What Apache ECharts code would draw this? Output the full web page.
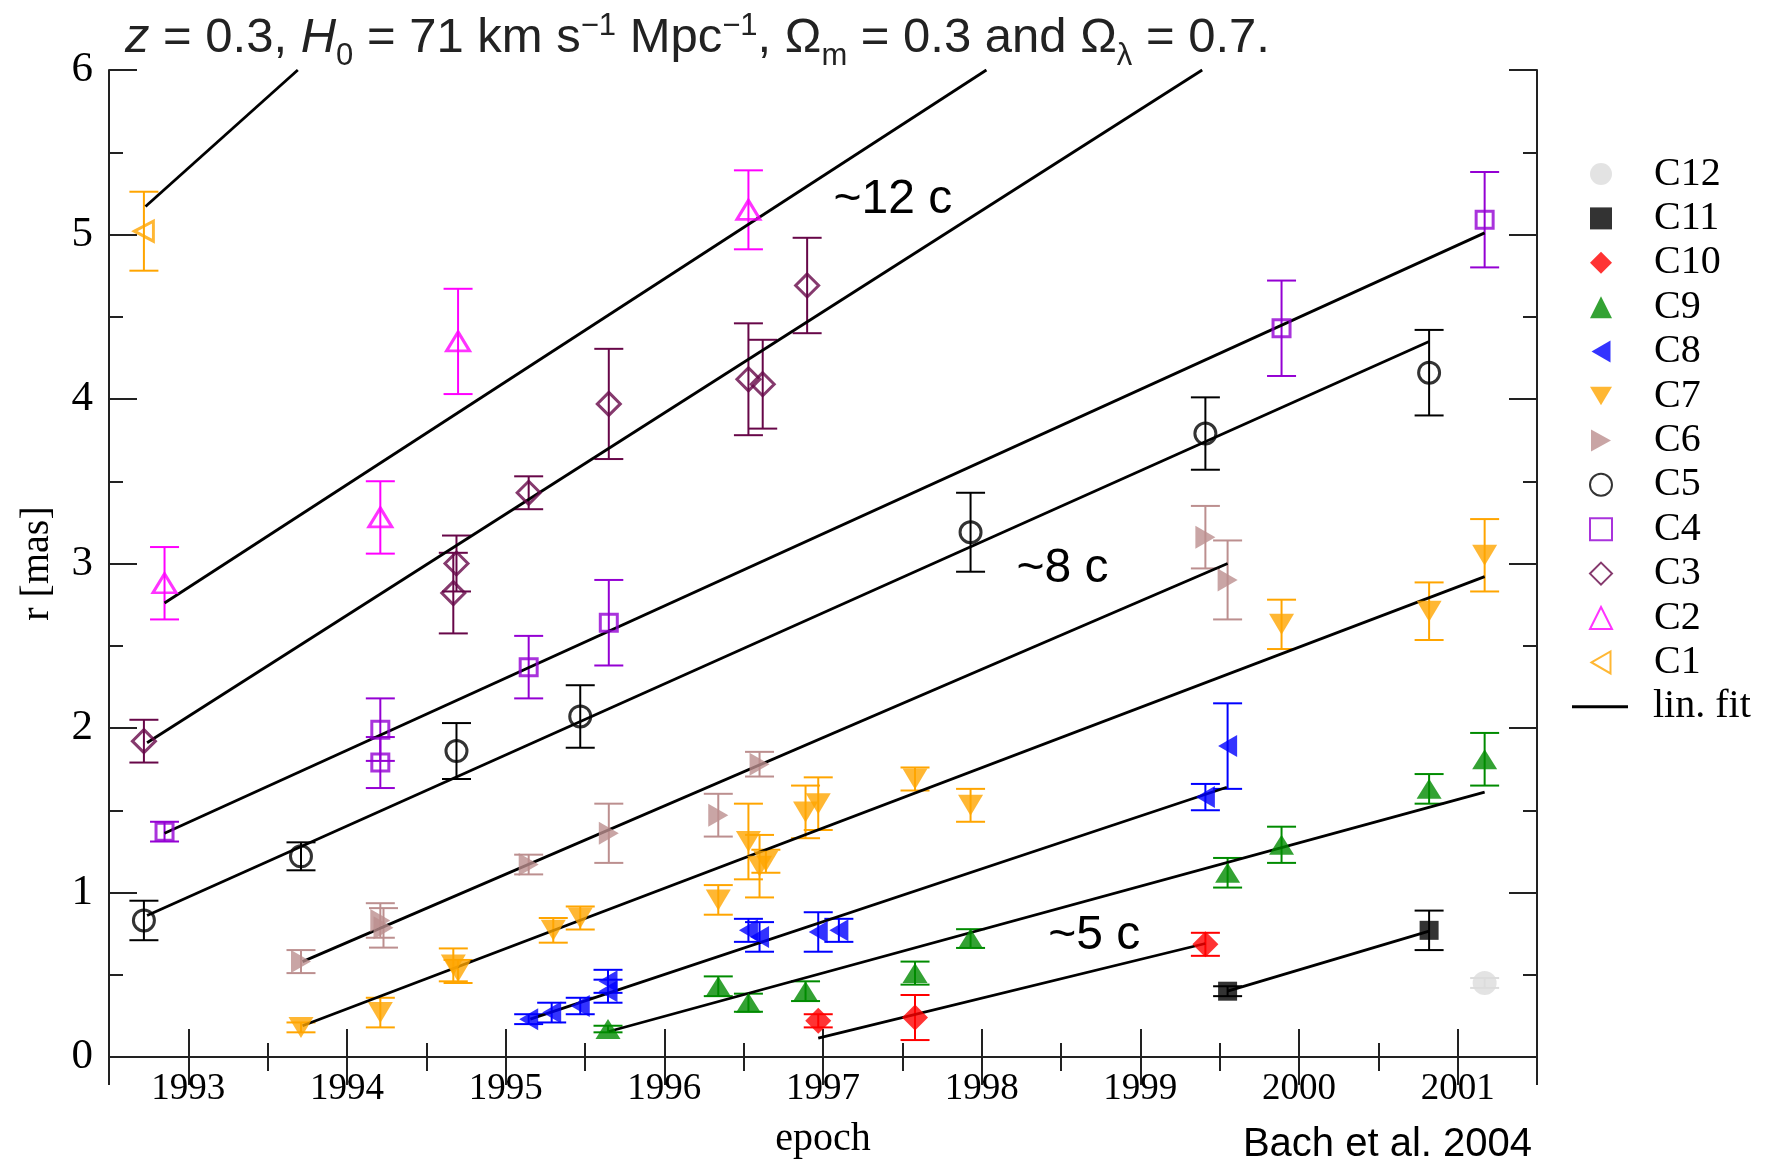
<!DOCTYPE html>
<html>
<head>
<meta charset="utf-8">
<title>r vs epoch</title>
<script src="https://cdn.jsdelivr.net/npm/echarts@6/dist/echarts.min.js"></script>
<style>
  html, body { margin: 0; padding: 0; background: #fff; }
  #chart { width: 1765px; height: 1164px; }
</style>
</head>
<body>
<div id="chart"></div>
<script>
// [epoch, r (mas), error]
var c1 = [[1992.72, 5.02, 0.24]];
var c2 = [[1992.85, 2.88, 0.22], [1994.21, 3.28, 0.22], [1994.70, 4.35, 0.32], [1996.53, 5.15, 0.24]];
var c3 = [[1992.72, 1.92, 0.13], [1994.67, 2.82, 0.245], [1994.69, 3.00, 0.17], [1995.145, 3.43, 0.10],
          [1995.65, 3.97, 0.335], [1996.53, 4.12, 0.34], [1996.62, 4.09, 0.27], [1996.90, 4.69, 0.29]];
var c4 = [[1992.85, 1.37, 0.06], [1994.21, 1.99, 0.19], [1994.21, 1.79, 0.155], [1995.145, 2.37, 0.19],
          [1995.65, 2.64, 0.26], [1999.89, 4.43, 0.29], [2001.17, 5.09, 0.29]];
var c5 = [[1992.72, 0.83, 0.12], [1993.71, 1.22, 0.085], [1994.69, 1.86, 0.17], [1995.47, 2.07, 0.19],
          [1997.93, 3.19, 0.24], [1999.41, 3.79, 0.22], [2000.82, 4.16, 0.26]];
var c6 = [[1993.71, 0.58, 0.07], [1994.21, 0.83, 0.105], [1994.23, 0.785, 0.12], [1995.145, 1.17, 0.06],
          [1995.65, 1.36, 0.18], [1996.34, 1.47, 0.13], [1996.60, 1.78, 0.075], [1999.41, 3.16, 0.19],
          [1999.55, 2.90, 0.24]];
var c7 = [[1993.71, 0.18, 0.03], [1994.21, 0.27, 0.09], [1994.67, 0.56, 0.10], [1994.70, 0.52, 0.07],
          [1995.30, 0.77, 0.075], [1995.47, 0.845, 0.07], [1996.34, 0.955, 0.09], [1996.53, 1.31, 0.23],
          [1996.60, 1.16, 0.19], [1996.64, 1.19, 0.07], [1996.89, 1.49, 0.16], [1996.97, 1.54, 0.16],
          [1997.58, 1.69, 0.07], [1997.93, 1.53, 0.10], [1999.89, 2.63, 0.15], [2000.82, 2.71, 0.175],
          [2001.17, 3.05, 0.22]];
var c8 = [[1995.145, 0.23, 0.03], [1995.29, 0.27, 0.06], [1995.47, 0.31, 0.05], [1995.645, 0.46, 0.07],
          [1995.645, 0.40, 0.07], [1996.53, 0.77, 0.07], [1996.60, 0.73, 0.09], [1996.97, 0.76, 0.12],
          [1997.10, 0.77, 0.07], [1999.41, 1.58, 0.08], [1999.55, 1.89, 0.26]];
var c9 = [[1995.645, 0.17, 0.02], [1996.34, 0.43, 0.06], [1996.53, 0.33, 0.055], [1996.89, 0.40, 0.06],
          [1997.58, 0.51, 0.07], [1997.93, 0.72, 0.057], [1999.55, 1.12, 0.09], [1999.89, 1.29, 0.11],
          [2000.82, 1.63, 0.09], [2001.17, 1.81, 0.16]];
var c10 = [[1996.97, 0.22, 0.04], [1997.58, 0.24, 0.137], [1999.41, 0.685, 0.07]];
var c11 = [[1999.55, 0.40, 0.03], [2000.82, 0.77, 0.12]];
var c12 = [[2001.17, 0.45, 0.03]];

// linear fits: [epoch start, r start, epoch end, r end]
var fits = [
  [1992.73, 5.17, 1993.69, 6.0],
  [1992.85, 2.76, 1998.03, 6.0],
  [1992.74, 1.91, 1999.39, 6.0],
  [1992.85, 1.36, 2001.17, 5.01],
  [1992.74, 0.86, 2000.82, 4.35],
  [1993.72, 0.58, 1999.55, 3.00],
  [1993.72, 0.19, 2001.17, 2.92],
  [1995.155, 0.23, 1999.545, 1.64],
  [1995.65, 0.155, 2001.17, 1.61],
  [1996.97, 0.115, 1999.41, 0.69],
  [1999.55, 0.40, 2000.82, 0.765]
];

// speed labels: [text, epoch, r]
var notes = [['~12 c', 1997.44, 5.21], ['~8 c', 1998.51, 2.97], ['~5 c', 1998.71, 0.74]];

var yTicks = [0, 6];
var xRange = [1992.5, 2001.5];

var triLeft = 'path://M0,11L19,0L19,22Z';
var triRight = 'path://M20,11L0,0L0,22Z';
var triDown = 'path://M0,0L24,0L12,20Z';

var comps = [
  // name, data, colour, symbol, size, rotate, open, legend icon
  ['C12', c12, '#DCDCDC', 'circle', [24, 24], 0, false, 'circle'],
  ['C11', c11, '#000000', 'rect', [19, 19], 0, false, 'rect'],
  ['C10', c10, '#FF0000', 'diamond', [26, 26], 0, false, 'diamond'],
  ['C9', c9, '#008B00', 'triangle', [25, 20], 0, false, 'triangle'],
  ['C8', c8, '#0000FF', 'triangle', [22, 19], 90, false, triLeft],
  ['C7', c7, '#FFA500', 'triangle', [25, 21], 180, false, triDown],
  ['C6', c6, '#BC8F8F', 'triangle', [23, 20], -90, false, triRight],
  ['C5', c5, '#000000', 'circle', [21, 21], 0, true, 'circle'],
  ['C4', c4, '#9400D3', 'rect', [17, 17], 0, true, 'rect'],
  ['C3', c3, '#670748', 'diamond', [23, 23], 0, true, 'diamond'],
  ['C2', c2, '#FF00FF', 'triangle', [23, 19], 0, true, 'triangle'],
  ['C1', c1, '#FFA500', 'triangle', [20, 19], 90, true, triLeft]
];

var chart = echarts.init(document.getElementById('chart'));
var serif = 'Liberation Serif';
var frame = '#222';

function errBars(name, data, color) {
  return {
    type: 'custom',
    name: name + ' err',
    data: data.map(function (d) { return [d[0], d[1] - d[2], d[1] + d[2]]; }),
    encode: { x: 0, y: [1, 2] },
    clip: true,
    silent: true,
    z: 2,
    renderItem: function (params, api) {
      var lo = api.coord([api.value(0), api.value(1)]);
      var hi = api.coord([api.value(0), api.value(2)]);
      var w = 14.5;
      var st = { stroke: color, lineWidth: 2 };
      return {
        type: 'group',
        children: [
          { type: 'line', shape: { x1: lo[0], y1: lo[1], x2: hi[0], y2: hi[1] }, style: st },
          { type: 'line', shape: { x1: lo[0] - w, y1: lo[1], x2: lo[0] + w, y2: lo[1] }, style: st },
          { type: 'line', shape: { x1: hi[0] - w, y1: hi[1], x2: hi[0] + w, y2: hi[1] }, style: st }
        ]
      };
    }
  };
}

var series = [];
comps.forEach(function (c) {
  series.push(errBars(c[0], c[1], c[2]));
});
fits.forEach(function (f) {
  series.push({
    type: 'line',
    name: 'lin. fit',
    data: [[f[0], f[1]], [f[2], f[3]]],
    symbol: 'none',
    lineStyle: { color: '#000', width: 2.8 },
    itemStyle: { color: '#000' },
    silent: true,
    z: 3
  });
});
comps.forEach(function (c) {
  series.push({
    type: 'scatter',
    name: c[0],
    data: c[1].map(function (d) { return [d[0], d[1]]; }),
    symbol: c[3],
    symbolSize: c[4],
    symbolRotate: c[5],
    itemStyle: c[6]
      ? { color: 'rgba(255,255,255,0)', borderColor: c[2], borderWidth: 3 }
      : { color: c[2], borderWidth: 0 },
    silent: true,
    z: 4
  });
});
series.push({
  type: 'custom',
  name: 'notes',
  data: notes.map(function (n) { return [n[1], n[2]]; }),
  encode: { x: 0, y: 1 },
  silent: true,
  z: 5,
  renderItem: function (params, api) {
    var p = api.coord([api.value(0), api.value(1)]);
    return {
      type: 'text',
      x: p[0],
      y: p[1],
      style: {
        text: notes[params.dataIndex][0],
        font: '48px "Liberation Sans"',
        fill: '#000',
        align: 'center',
        verticalAlign: 'middle',
        textAlign: 'center',
        textVerticalAlign: 'middle'
      }
    };
  }
});

var tickStyle = {
  axisLine: { show: true, lineStyle: { color: frame, width: 2 } },
  axisTick: { show: true, inside: true, length: 28, lineStyle: { color: frame, width: 2 } },
  minorTick: { show: true, splitNumber: 2, length: 14, lineStyle: { color: frame, width: 2 } },
  splitLine: { show: false }
};

function xAxis(pos, labels) {
  return Object.assign({
    type: 'value',
    position: pos,
    min: xRange[0],
    max: xRange[1],
    splitNumber: 9,
    name: labels ? 'epoch' : '',
    nameLocation: 'middle',
    nameGap: 62,
    nameTextStyle: { fontFamily: serif, fontSize: 40, color: '#000' },
    axisLabel: {
      show: labels,
      margin: 14,
      showMinLabel: false,
      showMaxLabel: false,
      fontFamily: serif,
      fontSize: 37,
      color: '#000',
      formatter: function (v) { return v % 1 === 0 ? String(v) : ''; }
    }
  }, tickStyle);
}

function yAxis(pos, labels) {
  return Object.assign({
    type: 'value',
    position: pos,
    min: yTicks[0],
    max: yTicks[1],
    interval: 1,
    name: labels ? 'r [mas]' : '',
    nameLocation: 'middle',
    nameGap: 52,
    nameTextStyle: { fontFamily: serif, fontSize: 40, color: '#000' },
    axisLabel: { show: labels, margin: 16, fontFamily: serif, fontSize: 43, color: '#000' }
  }, tickStyle);
}

var legendText = { fontFamily: serif, fontSize: 40, lineHeight: 40, color: '#000' };

chart.setOption({
  backgroundColor: '#fff',
  animation: false,
  title: [{
    left: 120,
    top: 18,
    text: '{it|z}{t| = 0.3, }{it|H}{sub|0}{t| = 71 km s}{sup|−1}{t| Mpc}{sup|−1}{t|, Ω}{sub|m}{t| = 0.3 and Ω}{sub|λ}{t| = 0.7.}',
    textStyle: {
      fontFamily: 'Liberation Sans',
      fontWeight: 'normal',
      color: '#222',
      rich: {
        t: { fontFamily: 'Liberation Sans', fontSize: 49, lineHeight: 49, color: '#222', verticalAlign: 'bottom', padding: [0, 0, 9, 0] },
        it: { fontFamily: 'Liberation Sans', fontSize: 49, lineHeight: 49, fontStyle: 'italic', color: '#222', verticalAlign: 'bottom', padding: [0, 0, 9, 0] },
        sub: { fontFamily: 'Liberation Sans', fontSize: 31, lineHeight: 31, color: '#222', verticalAlign: 'bottom', padding: [0, 0, 0, 0] },
        sup: { fontFamily: 'Liberation Sans', fontSize: 31, lineHeight: 31, color: '#222', verticalAlign: 'bottom', padding: [0, 0, 30, 0] }
      }
    }
  }, {
    right: 228,
    top: 1120,
    text: 'Bach et al. 2004',
    textStyle: { fontFamily: 'Liberation Sans', fontWeight: 'normal', fontSize: 40, color: '#000' }
  }],
  legend: [{
    orient: 'vertical',
    left: 1584,
    top: 149,
    itemWidth: 22,
    itemHeight: 22,
    itemGap: 4.4,
    selectedMode: false,
    data: comps.map(function (c) { return { name: c[0], icon: c[7] }; }),
    textStyle: Object.assign({ padding: [0, 0, 0, 37] }, legendText)
  }, {
    orient: 'vertical',
    left: 1567,
    top: 149 + 12 * 44.4,
    itemWidth: 56,
    itemHeight: 3,
    selectedMode: false,
    data: [{ name: 'lin. fit', icon: 'rect', itemStyle: { color: '#000' } }],
    textStyle: Object.assign({ padding: [0, 0, 0, 20] }, legendText)
  }],
  grid: { left: 109, right: 228, top: 70, bottom: 107, containLabel: false },
  xAxis: [xAxis('bottom', true), xAxis('top', false)],
  yAxis: [yAxis('left', true), yAxis('right', false)],
  series: series
});
</script>
</body>
</html>
